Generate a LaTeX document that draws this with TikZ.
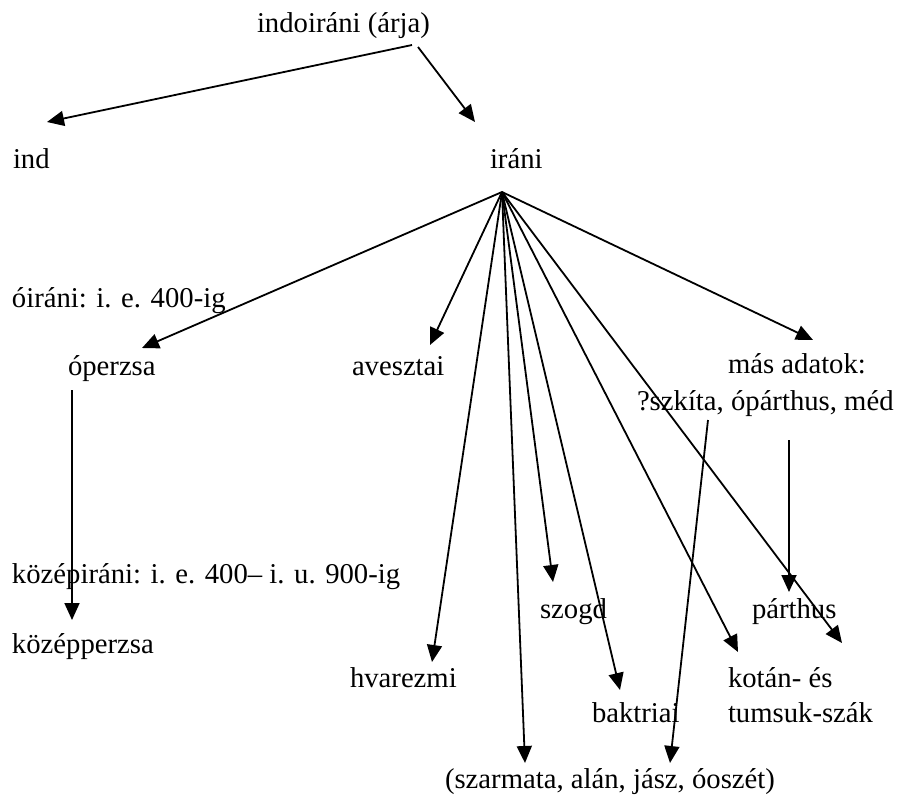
\documentclass[tikz,border=0pt]{standalone}
\usepackage{fontspec}
\setmainfont{Liberation Serif}
\usetikzlibrary{arrows.meta}
\tikzset{
  lbl/.style={anchor=base west, inner sep=0pt, outer sep=0pt, font=\fontsize{28.7}{33}\selectfont},
  arr/.style={line width=1.8pt, -{Triangle[length=17pt,width=15pt]}}
}
\begin{document}
\begin{tikzpicture}[x=1pt,y=-1pt]
\useasboundingbox (0,0) rectangle (898,798);
% labels
\node[lbl] (top) at (257,32) {indoiráni (árja)};
\node[lbl] (ind) at (13,168) {ind};
\node[lbl] (irani) at (490,168) {iráni};
\node[lbl] (oirani) at (12,307) {óiráni: i. e. 400-ig};
\node[lbl] (operzsa) at (68,375) {óperzsa};
\node[lbl] (aveszt) at (352,375) {avesztai};
\node[lbl] (mas) at (728,373) {más adatok:};
\node[lbl] (szkita) at (637,410) {?szkíta, ópárthus, méd};
\node[lbl] (kozepir) at (12,583) {középiráni: i. e. 400– i. u. 900-ig};
\node[lbl] (kozepp) at (12,653) {középperzsa};
\node[lbl] (szogd) at (540,618) {szogd};
\node[lbl] (parth) at (752,618) {párthus};
\node[lbl] (hvar) at (350,687) {hvarezmi};
\node[lbl] (kotan) at (728,687) {kotán- és};
\node[lbl] (tumsuk) at (728,722) {tumsuk-szák};
\node[lbl] (bakt) at (592,722) {baktriai};
\node[lbl] (szarm) at (445,788) {(szarmata, alán, jász, óoszét)};
% connector points
\coordinate (s-top1) at (412,45);
\coordinate (s-top2) at (418,47);
\coordinate (t-ind) at (47,122);
\coordinate (t-irani) at (475,122);
\coordinate (hub) at (502,192);
\coordinate (t-operzsa) at (142,348);
\coordinate (t-aveszt) at (430,345);
\coordinate (t-mas) at (813,340);
\coordinate (t-hvar) at (432,662);
\coordinate (t-szarm) at (525,763);
\coordinate (t-szogd) at (553,582);
\coordinate (t-bakt) at (620,690);
\coordinate (t-kotan) at (738,652);
\coordinate (t-tumsuk) at (842,643);
\coordinate (s-parth) at (789,440);
\coordinate (t-parth) at (789,592);
\coordinate (s-szkita) at (708,420);
\coordinate (t-szkita) at (670,763);
\coordinate (s-operzsa) at (72,390);
\coordinate (t-kozepp) at (72,620);
% connectors
\draw[arr] (s-top1) -- (t-ind);
\draw[arr] (s-top2) -- (t-irani);
\draw[arr] (hub) -- (t-operzsa);
\draw[arr] (hub) -- (t-aveszt);
\draw[arr] (hub) -- (t-mas);
\draw[arr] (hub) -- (t-hvar);
\draw[arr] (hub) -- (t-szarm);
\draw[arr] (hub) -- (t-szogd);
\draw[arr] (hub) -- (t-bakt);
\draw[arr] (hub) -- (t-kotan);
\draw[arr] (hub) -- (t-tumsuk);
\draw[arr] (s-parth) -- (t-parth);
\draw[arr] (s-szkita) -- (t-szkita);
\draw[arr] (s-operzsa) -- (t-kozepp);
\end{tikzpicture}
\end{document}
